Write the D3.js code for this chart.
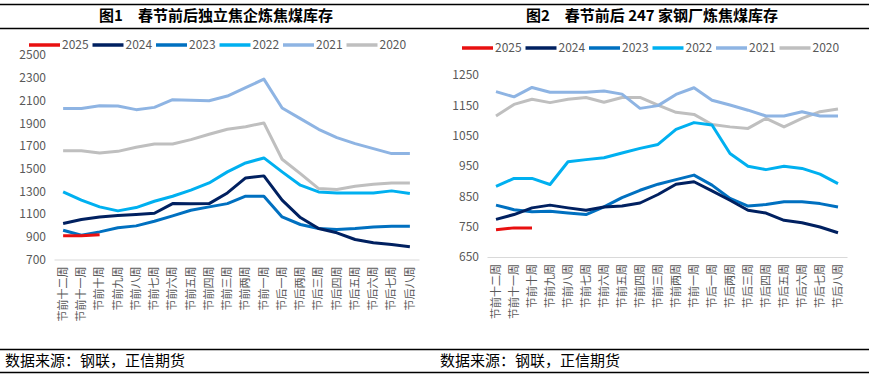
<!DOCTYPE html>
<html>
<head>
<meta charset="utf-8">
<script src="https://cdn.jsdelivr.net/npm/d3@7"></script>
<style>
  body { margin: 0; background: #fff; }
  svg { display: block; }
</style>
</head>
<body>
<div id="chart"></div>
<script>
const weeks = ["节前十二周", "节前十一周", "节前十周", "节前九周", "节前八周", "节前七周",
  "节前六周", "节前五周", "节前四周", "节前三周", "节前两周", "节前一周",
  "节后一周", "节后两周", "节后三周", "节后四周", "节后五周", "节后六周", "节后七周", "节后八周"];
const years = ["2025", "2024", "2023", "2022", "2021", "2020"];
const colors = ["#E81010", "#002060", "#0070C0", "#00B0F0", "#8EB4E3", "#BFBFBF"];

// 图1 独立焦企
const coke2025 = [910, 910, 918];
const coke2024 = [1017, 1052, 1075, 1087, 1096, 1107, 1192, 1190, 1192, 1286, 1418, 1436, 1222, 1069, 973, 935, 876, 847, 832, 812];
const coke2023 = [958, 914, 943, 979, 996, 1037, 1084, 1134, 1163, 1192, 1257, 1257, 1075, 1008, 973, 964, 973, 987, 993, 993];
const coke2022 = [1295, 1222, 1163, 1128, 1157, 1213, 1257, 1310, 1374, 1471, 1550, 1594, 1471, 1354, 1295, 1286, 1286, 1286, 1304, 1280];
const coke2021 = [2030, 2030, 2054, 2051, 2019, 2039, 2107, 2101, 2098, 2139, 2212, 2288, 2033, 1940, 1846, 1773, 1720, 1676, 1632, 1632];
const coke2020 = [1658, 1658, 1638, 1652, 1688, 1717, 1717, 1755, 1802, 1846, 1869, 1902, 1582, 1456, 1324, 1316, 1345, 1362, 1374, 1374];
const cokeTicks = [700, 900, 1100, 1300, 1500, 1700, 1900, 2100, 2300, 2500];

// 图2 247家钢厂
const steel2025 = [740, 746, 746];
const steel2024 = [774, 790, 812, 821, 812, 804, 815, 818, 828, 856, 890, 898, 868, 837, 804, 795, 771, 763, 749, 730];
const steel2023 = [821, 806, 799, 801, 795, 790, 815, 846, 870, 890, 905, 920, 887, 843, 818, 823, 832, 832, 826, 815];
const steel2022 = [883, 909, 909, 889, 964, 971, 977, 993, 1008, 1021, 1071, 1093, 1085, 991, 949, 938, 949, 942, 923, 892];
const steel2021 = [1195, 1178, 1209, 1193, 1193, 1193, 1197, 1187, 1140, 1149, 1186, 1208, 1167, 1151, 1134, 1115, 1115, 1129, 1115, 1115];
const steel2020 = [1115, 1153, 1170, 1159, 1170, 1176, 1160, 1176, 1176, 1151, 1127, 1120, 1087, 1079, 1074, 1107, 1079, 1107, 1129, 1138];
const steelTicks = [650, 750, 850, 950, 1050, 1150, 1250];

const width = 869, height = 375;
const font = "'Noto Sans CJK SC', 'Noto Sans', sans-serif";

const svg = d3.select("#chart").append("svg")
  .attr("width", width)
  .attr("height", height);

// frame lines
[4.5, 28.5, 349.5, 372.5].forEach(y => {
  svg.append("line")
    .attr("x1", 0).attr("x2", width)
    .attr("y1", y).attr("y2", y)
    .attr("stroke", "#000").attr("stroke-width", 1.5);
});

function drawPanel(opt) {
  const g = svg.append("g");

  g.append("text")
    .attr("x", opt.titleX).attr("y", 21)
    .attr("text-anchor", "middle")
    .attr("font-family", font).attr("font-weight", "bold")
    .attr("font-size", 15).attr("fill", "#000")
    .text(opt.title);

  const x = d3.scaleBand()
    .domain(weeks)
    .range([opt.left, opt.right]);

  const y = d3.scaleLinear()
    .domain([opt.ticks[0], opt.ticks[opt.ticks.length - 1]])
    .range([opt.bottom, opt.top]);

  // x axis
  const xa = g.append("g")
    .attr("transform", `translate(0,${opt.bottom})`)
    .call(d3.axisBottom(x).tickSize(0).tickPadding(0));
  xa.select(".domain").attr("stroke", "#D9D9D9");
  xa.selectAll("text")
    .attr("font-family", font).attr("font-size", 11).attr("fill", "#595959")
    .attr("text-anchor", "end")
    .attr("dy", "0.35em")
    .attr("transform", "translate(0,7) rotate(-90)");

  // y axis
  const ya = g.append("g")
    .attr("transform", `translate(${opt.labelX},0)`)
    .call(d3.axisLeft(y).tickValues(opt.ticks).tickFormat(d3.format("d")).tickSize(0).tickPadding(0));
  ya.select(".domain").remove();
  ya.selectAll("text")
    .attr("font-family", font).attr("font-size", 12).attr("fill", "#595959");

  const line = d3.line()
    .x((d, i) => x(weeks[i]) + x.bandwidth() / 2)
    .y(d => y(d));

  // draw oldest first so 2025 stays on top
  opt.series.slice().reverse().forEach((s, k) => {
    const idx = opt.series.length - 1 - k;
    g.append("path")
      .datum(s)
      .attr("fill", "none")
      .attr("stroke", colors[idx])
      .attr("stroke-width", 3)
      .attr("stroke-linejoin", "round")
      .attr("d", line);
  });

  // legend
  const lg = g.append("g");
  years.forEach((yr, i) => {
    const lx = opt.legendX + i * 63.5;
    lg.append("line")
      .attr("x1", lx).attr("x2", lx + 31)
      .attr("y1", opt.legendY).attr("y2", opt.legendY)
      .attr("stroke", colors[i]).attr("stroke-width", 3.5);
    lg.append("text")
      .attr("x", lx + 33).attr("y", opt.legendY)
      .attr("dy", "0.35em")
      .attr("font-family", font).attr("font-size", 12).attr("fill", "#595959")
      .text(yr);
  });

  g.append("text")
    .attr("x", opt.sourceX).attr("y", 366)
    .attr("font-family", font).attr("font-size", 15).attr("fill", "#000")
    .text("数据来源：钢联，正信期货");
}

drawPanel({
  title: "图1　春节前后独立焦企炼焦煤库存",
  titleX: 216,
  left: 54, right: 419, top: 55, bottom: 259.5,
  labelX: 46,
  ticks: cokeTicks,
  series: [coke2025, coke2024, coke2023, coke2022, coke2021, coke2020],
  legendX: 29, legendY: 45,
  sourceX: 5
});

drawPanel({
  title: "图2　春节前后 247 家钢厂炼焦煤库存",
  titleX: 652,
  left: 487, right: 847, top: 75, bottom: 257,
  labelX: 479,
  ticks: steelTicks,
  series: [steel2025, steel2024, steel2023, steel2022, steel2021, steel2020],
  legendX: 462, legendY: 48,
  sourceX: 440
});
</script>
</body>
</html>
